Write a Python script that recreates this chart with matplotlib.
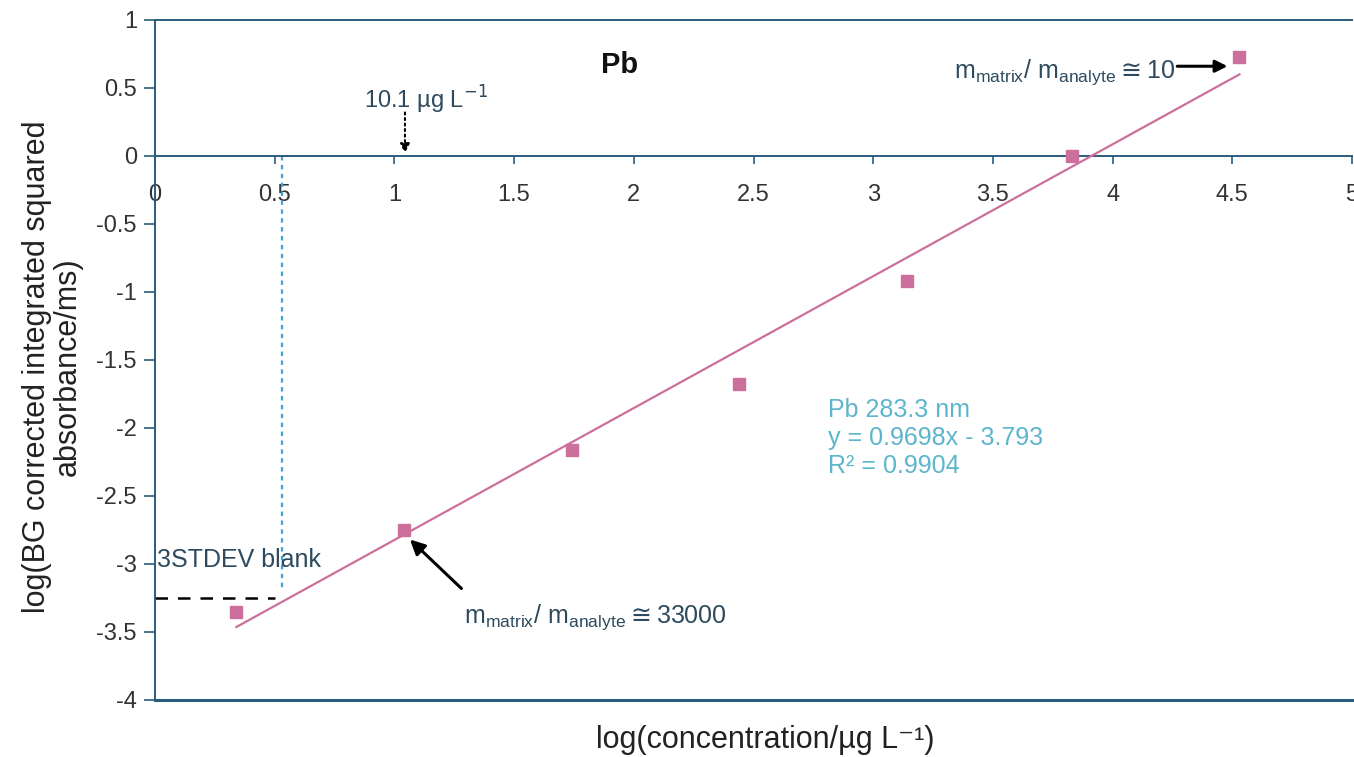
import numpy as np
import matplotlib.pyplot as plt
from matplotlib.ticker import FuncFormatter

plt.rcParams['font.family'] = ['Liberation Sans', 'DejaVu Sans']

# calibration points, Pb 283.3 nm
log_conc = [0.34, 1.04, 1.74, 2.44, 3.14, 3.83, 4.53]
log_abs = [-3.35, -2.75, -2.16, -1.68, -0.92, 0.0, 0.73]

# linear fit reported on the chart
slope = 0.9698
intercept = -3.793
r2 = 0.9904

# detection limit helpers
lod_x = 0.53
blank_3sd = -3.25

x_ticks = [0, 0.5, 1, 1.5, 2, 2.5, 3, 3.5, 4, 4.5, 5]
y_ticks = [1, 0.5, 0, -0.5, -1, -1.5, -2, -2.5, -3, -3.5, -4]

axis_col = '#2b5c7c'
text_col = '#2d4a5e'
pink = '#cc6f9c'
fit_col = '#5bb5cc'

fig = plt.figure(figsize=(13.54, 7.57), dpi=100)
ax = fig.add_axes([155 / 1354, 57 / 757, 1197 / 1354, 680 / 757])

ax.set_xlim(0, 5)
ax.set_ylim(-4, 1)

# fitted line over the range of the standards
xf = np.array([min(log_conc), max(log_conc)])
ax.plot(xf, slope * xf + intercept, color=pink, lw=1.6, zorder=3)
ax.plot(log_conc, log_abs, 's', color=pink, ms=8, mec=pink, zorder=4)

# axes styling: x axis runs through y=0, frame lines at top and bottom
ax.spines['bottom'].set_position(('data', 0))
ax.spines['right'].set_visible(False)
for s in ['bottom', 'left', 'top']:
    ax.spines[s].set_color(axis_col)
    ax.spines[s].set_linewidth(1.4)
ax.axhline(-4, color=axis_col, lw=2.2, clip_on=False)

ax.set_xticks(x_ticks)
ax.set_yticks(y_ticks)
fmt = FuncFormatter(lambda v, p: ('%g' % v).replace('\u2212', '-'))
ax.xaxis.set_major_formatter(fmt)
ax.yaxis.set_major_formatter(fmt)
ax.tick_params(axis='x', direction='out', length=6, width=1.2, color=axis_col,
               labelsize=17, labelcolor='#333333', pad=14)
ax.tick_params(axis='y', direction='out', length=8, width=1.2, color=axis_col,
               labelsize=17, labelcolor='#333333', pad=5)

ax.set_xlabel('log(concentration/\u00b5g L\u207b\u00b9)', fontsize=22, color='#222222')
ax.xaxis.set_label_coords(0.51, -0.037)
ax.set_ylabel('log(BG corrected integrated squared\nabsorbance/ms)', fontsize=22,
              color='#222222', linespacing=1.05)
ax.yaxis.set_label_coords(-0.06, 0.49)

ax.text(1.94, 0.67, 'Pb', fontsize=21, fontweight='bold', ha='center', va='center',
        color='#111111')

# detection limit markers
ax.plot([lod_x, lod_x], [0, -3.18], color='#4a9fd0', lw=1.6, ls=(0, (2, 2)), zorder=2)
ax.plot([0, 0.5], [blank_3sd, blank_3sd], color='black', lw=1.8, ls=(0, (5, 4)), zorder=2)
ax.text(0.01, -2.97, '3STDEV blank', fontsize=18, color=text_col, va='center')

ax.text(1.13, 0.41, '10.1 \u00b5g L$^{-1}$', fontsize=17, color=text_col,
        ha='center', va='center')
ax.annotate('', xy=(1.044, 0.02), xytext=(1.044, 0.32),
            arrowprops=dict(arrowstyle='-|>', color='black', lw=1.5, ls=':',
                            mutation_scale=14, shrinkA=0, shrinkB=0))

ratio = 'm$_{\\mathregular{matrix}}$/ m$_{\\mathregular{analyte}}$$\\cong$'
ax.text(1.29, -3.39, ratio + '33000', fontsize=18, color=text_col,
        ha='left', va='center')
ax.annotate('', xy=(1.065, -2.82), xytext=(1.28, -3.18),
            arrowprops=dict(arrowstyle='-|>', color='black', lw=2.2,
                            mutation_scale=22, shrinkA=0, shrinkB=0))

ax.text(4.26, 0.62, ratio + '10', fontsize=18, color=text_col,
        ha='right', va='center')
ax.annotate('', xy=(4.48, 0.66), xytext=(4.27, 0.66),
            arrowprops=dict(arrowstyle='-|>', color='black', lw=2.2,
                            mutation_scale=18, shrinkA=0, shrinkB=0))

ax.text(2.81, -1.78, 'Pb 283.3 nm\ny = %.4fx - %.3f\nR\u00b2 = %.4f' % (slope, -intercept, r2),
        fontsize=18, color=fit_col, va='top', ha='left', linespacing=1.2)

fig.savefig('out.png', dpi=100, facecolor='white')
